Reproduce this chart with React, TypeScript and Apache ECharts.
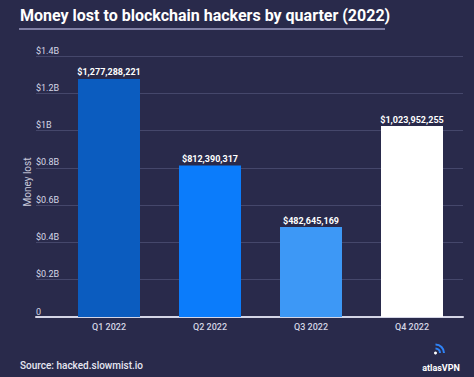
import React, { useEffect, useRef } from "react";
import * as echarts from "echarts";

const categories = ["Q1 2022", "Q2 2022", "Q3 2022", "Q4 2022"];
const values = [1277288221, 812390317, 482645169, 1023952255];
const barColors = ["#0b5cbf", "#0b7cfb", "#3d98f6", "#ffffff"];
const yTickLabels: Record<number, string> = {
  0: "0",
  200000000: "$0.2B",
  400000000: "$0.4B",
  600000000: "$0.6B",
  800000000: "$0.8B",
  1000000000: "$1B",
  1200000000: "$1.2B",
  1400000000: "$1.4B",
};
const titleText = "Money lost to blockchain hackers by quarter (2022)";
const yAxisTitle = "Money lost";
const sourceText = "Source: hacked.slowmist.io";
const brandText = "atlasVPN";

const BG = "#292a4b";
const FONT = "Roboto, 'Noto Sans', sans-serif";

export default function App() {
  const ref = useRef<HTMLDivElement>(null);
  useEffect(() => {
    document.body.style.margin = "0";
    const chart = echarts.init(ref.current!, null, { renderer: "svg" });
    const top = 56;
    const bottom = 60;
    chart.setOption({
      animation: false,
      backgroundColor: BG,
      textStyle: { fontFamily: FONT },
      grid: [
        { left: 36, right: 11, top, bottom },
        { left: 58.5, right: 11.5, top, bottom },
      ],
      xAxis: [
        {
          type: "value",
          gridIndex: 0,
          min: 0,
          max: 1,
          axisLine: { show: true, lineStyle: { color: "#d4d5e6", width: 2 } },
          axisTick: { show: false },
          axisLabel: { show: false },
          splitLine: { show: false },
        },
        {
          type: "category",
          gridIndex: 1,
          data: categories,
          axisLine: { show: false },
          axisTick: { show: false },
          axisLabel: {
            color: "#d4d5e4",
            fontSize: 9,
            fontWeight: 500,
            margin: 5,
            fontFamily: FONT,
          },
        },
      ],
      yAxis: [
        {
          type: "value",
          gridIndex: 0,
          min: 0,
          max: 1400000000,
          interval: 200000000,
          axisLine: { show: false },
          axisTick: { show: false },
          splitLine: { show: true, lineStyle: { color: "#45476b", width: 1 } },
          axisLabel: {
            inside: true,
            margin: 0,
            verticalAlign: "bottom",
            padding: [0, 0, 1, 0],
            color: "#d6d7e6",
            fontSize: 9,
            fontFamily: FONT,
            formatter: (v: number) => yTickLabels[v] ?? "",
          },
        },
        {
          type: "value",
          gridIndex: 1,
          min: 0,
          max: 1400000000,
          interval: 200000000,
          show: false,
        },
      ],
      series: [
        {
          type: "bar",
          xAxisIndex: 1,
          yAxisIndex: 1,
          barWidth: 62,
          data: values.map((v, i) => ({ value: v, itemStyle: { color: barColors[i] } })),
          label: {
            show: true,
            position: "top",
            distance: 2,
            color: "#ffffff",
            fontSize: 9,
            fontWeight: "bold",
            fontFamily: FONT,
            formatter: (p: any) => "$" + Number(p.value).toLocaleString("en-US"),
          },
        },
      ],
      graphic: [
        {
          type: "text",
          x: 20,
          y: 15.5,
          style: {
            text: titleText,
            fill: "#ffffff",
            fontSize: 16,
            fontWeight: "bold",
            fontFamily: FONT,
            verticalAlign: "middle",
          },
        },
        {
          type: "line",
          shape: { x1: 19, y1: 29, x2: 385, y2: 29 },
          style: { stroke: "#9c9dc2", lineWidth: 1.5 },
        },
        {
          type: "text",
          x: 27,
          y: 182,
          rotation: Math.PI / 2,
          style: {
            text: yAxisTitle,
            fill: "#c9cadb",
            fontSize: 10,
            fontFamily: FONT,
            align: "center",
            verticalAlign: "middle",
          },
        },
        {
          type: "text",
          x: 20,
          y: 365,
          style: {
            text: sourceText,
            fill: "#e6e6f2",
            fontSize: 10,
            fontWeight: 500,
            fontFamily: FONT,
            verticalAlign: "middle",
          },
        },
        {
          type: "text",
          x: 441,
          y: 368,
          style: {
            text: brandText,
            fill: "#ffffff",
            fontSize: 9,
            fontWeight: "bold",
            fontFamily: FONT,
            align: "center",
            verticalAlign: "middle",
          },
        },
        {
          type: "arc",
          shape: { cx: 435.5, cy: 353, r: 4.5, startAngle: -Math.PI / 2, endAngle: 0 },
          style: { stroke: "#2f83f7", lineWidth: 2, fill: "none" },
        },
        {
          type: "arc",
          shape: { cx: 435.5, cy: 353, r: 8.5, startAngle: -Math.PI / 2, endAngle: 0 },
          style: { stroke: "#2f83f7", lineWidth: 2, fill: "none" },
        },
        {
          type: "circle",
          shape: { cx: 435.5, cy: 353, r: 1.5 },
          style: { fill: "#ffffff" },
        },
      ],
    });
    return () => chart.dispose();
  }, []);
  return <div ref={ref} style={{ width: 474, height: 377 }} />;
}
